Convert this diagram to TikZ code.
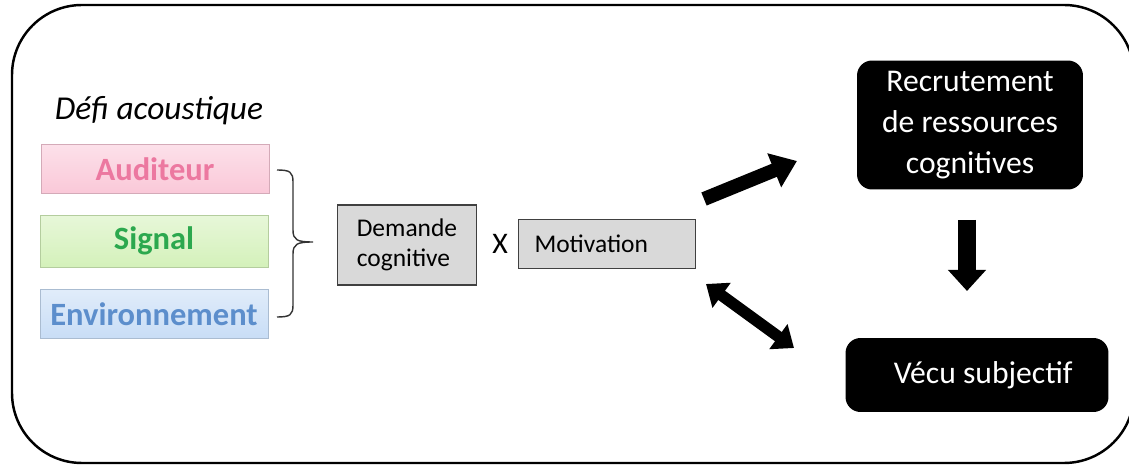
\documentclass[tikz,border=0pt]{standalone}
\usepackage{fontspec}
\setmainfont{Carlito}
\usetikzlibrary{arrows.meta, positioning}
\definecolor{AudFill}{RGB}{250, 200, 216}
\definecolor{AudText}{RGB}{236, 120, 160}
\definecolor{SigFill}{RGB}{212, 241, 186}
\definecolor{SigText}{RGB}{44, 168, 78}
\definecolor{EnvFill}{RGB}{200, 221, 246}
\definecolor{EnvText}{RGB}{92, 142, 204}
\definecolor{BoxGray}{RGB}{217, 217, 217}

\begin{document}
\begin{tikzpicture}[
    x=0.02cm, y=-0.02cm, % one unit is one pixel of the sketch
    font=\fontsize{18}{22}\selectfont,
    factor/.style={draw=#1!85!black, top color=#1!55!white, bottom color=#1, minimum width=4.56cm,
                   minimum height=0.98cm, inner sep=0pt, font=\fontsize{18.5}{22}\selectfont\bfseries},
    graybox/.style={draw=black!75, fill=BoxGray, line width=0.8pt, inner sep=0pt,
                    font=\fontsize{14.5}{17}\selectfont},
    blackbox/.style={fill=black, text=white, rounded corners=0.3cm, align=center, inner sep=0pt,
                     font=\fontsize{18}{23.5}\selectfont},
    fatarrow/.style={line width=#1, black}
]

\useasboundingbox (0,0) rectangle (1129,465);
\clip (0,0) rectangle (1129,465);

% --- Outer frame (cut by the page on the right and bottom) ---
\draw[line width=1.4pt, rounded corners=1.4cm] (12,5) rectangle (1134,463);

% --- Acoustic challenge: three factors ---
\node[font=\fontsize{19}{22}\selectfont\itshape] (defi) at (159,111) {Défi acoustique};
\node[factor=AudFill, text=AudText] (auditeur) at (155,169) {Auditeur};
\node[factor=SigFill, text=SigText, minimum height=1.04cm] (signal) at (154,241) {Signal};
\node[factor=EnvFill, text=EnvText] (environ) at (154,314) {Environnement};

% --- Brace gathering the factors ---
\draw[black!80, line width=0.8pt]
    (277,170) .. controls (290,170) and (293,172) .. (293,182) -- (293,230)
    .. controls (293,240) and (297,242) .. (313,242)
    .. controls (297,242) and (293,244) .. (293,254) -- (293,305)
    .. controls (293,315) and (290,317) .. (277,317);

% --- Demand x motivation ---
\node[graybox, minimum width=2.78cm, minimum height=1.6cm, align=left] (demande) at (407,245) {Demande\\cognitive};
\node[font=\fontsize{17}{18}\selectfont] (fois) at (500,244) {X};
\node[graybox, minimum height=0.98cm, text width=2.9cm, inner xsep=0.32cm, align=left] (motiv) at (607,244) {Motivation};

% --- Outcomes ---
\node[blackbox, minimum width=4.52cm, minimum height=2.58cm] (recrut) at (970,125) {Recrutement\\de ressources\\cognitives};
\node[blackbox, minimum width=5.26cm, minimum height=1.48cm] (vecu) at (977,375) {\hspace{0.25cm}Vécu subjectif};

% --- Block arrows ---
\coordinate (upA) at (704,199);
\coordinate (upB) at (797,161);
\coordinate (downA) at (967,220);
\coordinate (downB) at (967,291);
\coordinate (twoA) at (706,284);
\coordinate (twoB) at (794,348);

\draw[fatarrow=8pt, -{Triangle[length=14pt, width=20pt]}] (upA) -- (upB);
\draw[fatarrow=10pt, -{Triangle[length=12pt, width=21pt]}] (downA) -- (downB);
\draw[fatarrow=6.5pt, {Triangle[length=11pt, width=17pt]}-{Triangle[length=11pt, width=17pt]}] (twoA) -- (twoB);

\end{tikzpicture}
\end{document}
